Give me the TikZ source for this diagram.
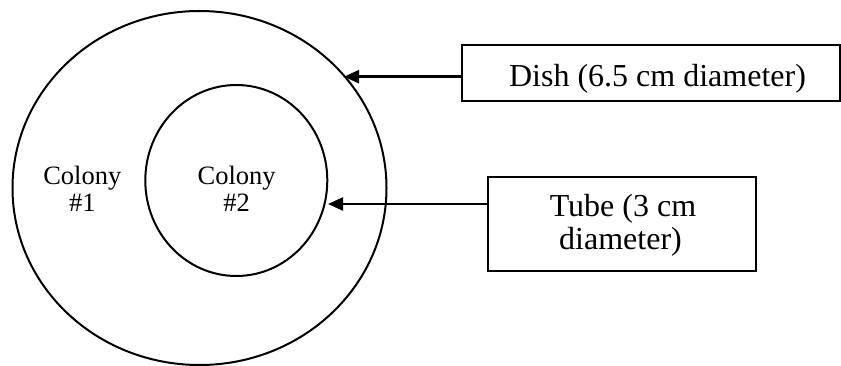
\documentclass[tikz,border=0pt]{standalone}
\usepackage{fontspec}
\setmainfont{Liberation Serif}
\usetikzlibrary{shapes.geometric,arrows.meta}
\begin{document}
\begin{tikzpicture}[x=1pt,y=-1pt,
  ring/.style={draw, ellipse, line width=2pt, inner sep=0pt},
  labelbox/.style={draw, rectangle, line width=2pt, inner sep=0pt},
  bigtxt/.style={font=\fontsize{32}{33.4}\selectfont, inner sep=0pt, align=center},
  coltxt/.style={font=\fontsize{26.5}{27.4}\selectfont, inner sep=0pt, align=center},
  pointer/.style={line width=2.4pt, -{Triangle[length=15pt,width=13pt]}}]
\useasboundingbox (0,0) rectangle (841,366);
% dish and tube
\node[ring, minimum width=374pt, minimum height=354pt] (outer) at (199.5,188) {};
\node[ring, minimum width=182pt, minimum height=191pt] (inner) at (236.3,180.5) {};
% colony labels
\node[coltxt, anchor=base] (c1) at (82.3,184.3) {Colony};
\node[coltxt, anchor=base] (c1b) at (82.3,211.7) {\#1};
\node[coltxt, anchor=base] (c2) at (236.7,184.3) {Colony};
\node[coltxt, anchor=base] (c2b) at (236.7,211.7) {\#2};
% boxes
\node[labelbox, minimum width=378pt, minimum height=56pt] (dish) at (650.8,73) {};
\node[bigtxt, anchor=base] (dishtext) at (657.5,86.7) {Dish (6.5 cm diameter)};
\node[labelbox, minimum width=268pt, minimum height=94pt] (tube) at (622,223.7) {};
\node[bigtxt, anchor=base] (tubetext1) at (623,216.7) {Tube (3 cm};
\node[bigtxt, anchor=base] (tubetext2) at (620.5,250) {diameter)};
% arrow tips
\coordinate (dishtip) at (344,76.7);
\coordinate (tubetip) at (328,204);
\draw[pointer] ([yshift=-3.7pt]dish.west) -- (dishtip);
\draw[pointer] ([yshift=19.7pt]tube.west) -- (tubetip);
\end{tikzpicture}
\end{document}
